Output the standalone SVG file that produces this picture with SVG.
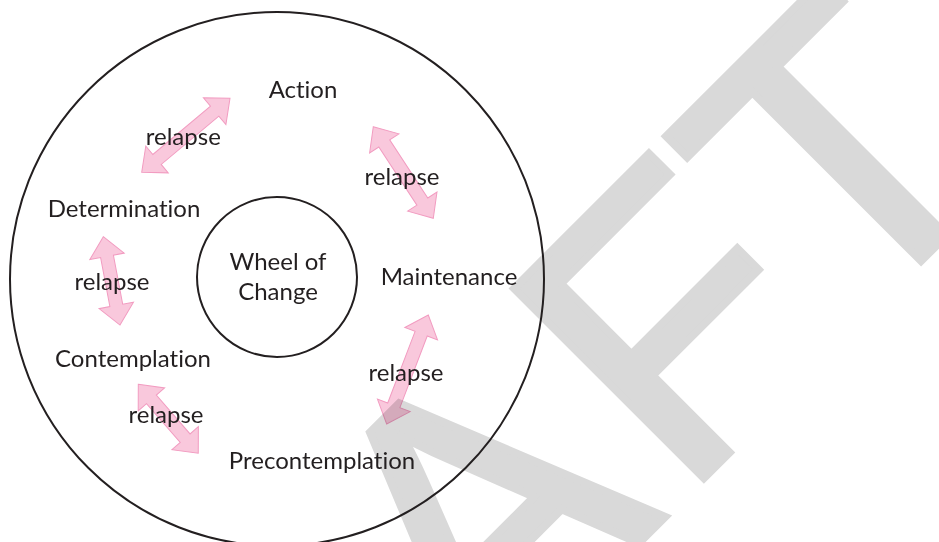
<svg xmlns="http://www.w3.org/2000/svg" width="939" height="542" viewBox="0 0 939 542">
<style>
.lbl{font-family:Lato,"Open Sans","Liberation Sans",sans-serif;font-size:24px;fill:#231f20;text-anchor:middle;font-variant-ligatures:none}
.rl{font-family:Lato,"Open Sans","Liberation Sans",sans-serif;font-size:24px;fill:#231f20;text-anchor:middle;font-variant-ligatures:none}
.arr{fill:#f9c8dc;stroke:#f29cc1;stroke-width:1;mix-blend-mode:multiply}
.ring{fill:none;stroke:#231f20;stroke-width:2}
.wm{font-family:"Liberation Sans",Arial,sans-serif;font-size:390px;fill:#d9d9d9;stroke:#d9d9d9;stroke-width:8}
</style>
<rect width="939" height="542" fill="#ffffff"/>
<g id="watermark">
<text class="wm" transform="translate(99,1083) rotate(-45)" dx="0 0 -22 22 0">DRAFT</text>
</g>
<g id="outer-ring">
<circle class="ring" cx="277" cy="279" r="267"/>
</g>
<g id="node-wheel">
<circle class="ring" cx="277" cy="277" r="80" fill="none"/>
<text class="lbl" x="278" y="270">Wheel of</text>
<text class="lbl" x="278" y="299.5">Change</text>
</g>
<g id="node-action"><text class="lbl" x="303" y="98">Action</text></g>
<g id="node-maintenance"><text class="lbl" x="449" y="284.5">Maintenance</text></g>
<g id="node-precontemplation"><text class="lbl" x="322" y="468.5">Precontemplation</text></g>
<g id="node-contemplation"><text class="lbl" x="133" y="367">Contemplation</text></g>
<g id="node-determination"><text class="lbl" x="124" y="217">Determination</text></g>
<g id="connectors">
<path class="arr" transform="translate(141.7,172.3) rotate(-39.96)" d="M0,0 L20,-17.5 L20,-6.5 L95.2,-6.5 L95.2,-17.5 L115.2,0 L95.2,17.5 L95.2,6.5 L20,6.5 L20,17.5 Z"/>
<path class="arr" transform="translate(373.3,126.7) rotate(56.78)" d="M0,0 L20,-17.5 L20,-6.5 L89.5,-6.5 L89.5,-17.5 L109.5,0 L89.5,17.5 L89.5,6.5 L20,6.5 L20,17.5 Z"/>
<path class="arr" transform="translate(103.3,236.7) rotate(79.3)" d="M0,0 L20,-17.5 L20,-6.5 L69.9,-6.5 L69.9,-17.5 L89.9,0 L69.9,17.5 L69.9,6.5 L20,6.5 L20,17.5 Z"/>
<path class="arr" transform="translate(428.3,315) rotate(110.9)" d="M0,0 L20,-17.5 L20,-6.5 L96.7,-6.5 L96.7,-17.5 L116.7,0 L96.7,17.5 L96.7,6.5 L20,6.5 L20,17.5 Z"/>
<path class="arr" transform="translate(138.3,384.3) rotate(49)" d="M0,0 L20,-17.5 L20,-6.5 L71.4,-6.5 L71.4,-17.5 L91.4,0 L71.4,17.5 L71.4,6.5 L20,6.5 L20,17.5 Z"/>
<text class="rl" x="183.3" y="145">relapse</text>
<text class="rl" x="402" y="185">relapse</text>
<text class="rl" x="112" y="290">relapse</text>
<text class="rl" x="406" y="381">relapse</text>
<text class="rl" x="166" y="422.5">relapse</text>
</g>
</svg>
